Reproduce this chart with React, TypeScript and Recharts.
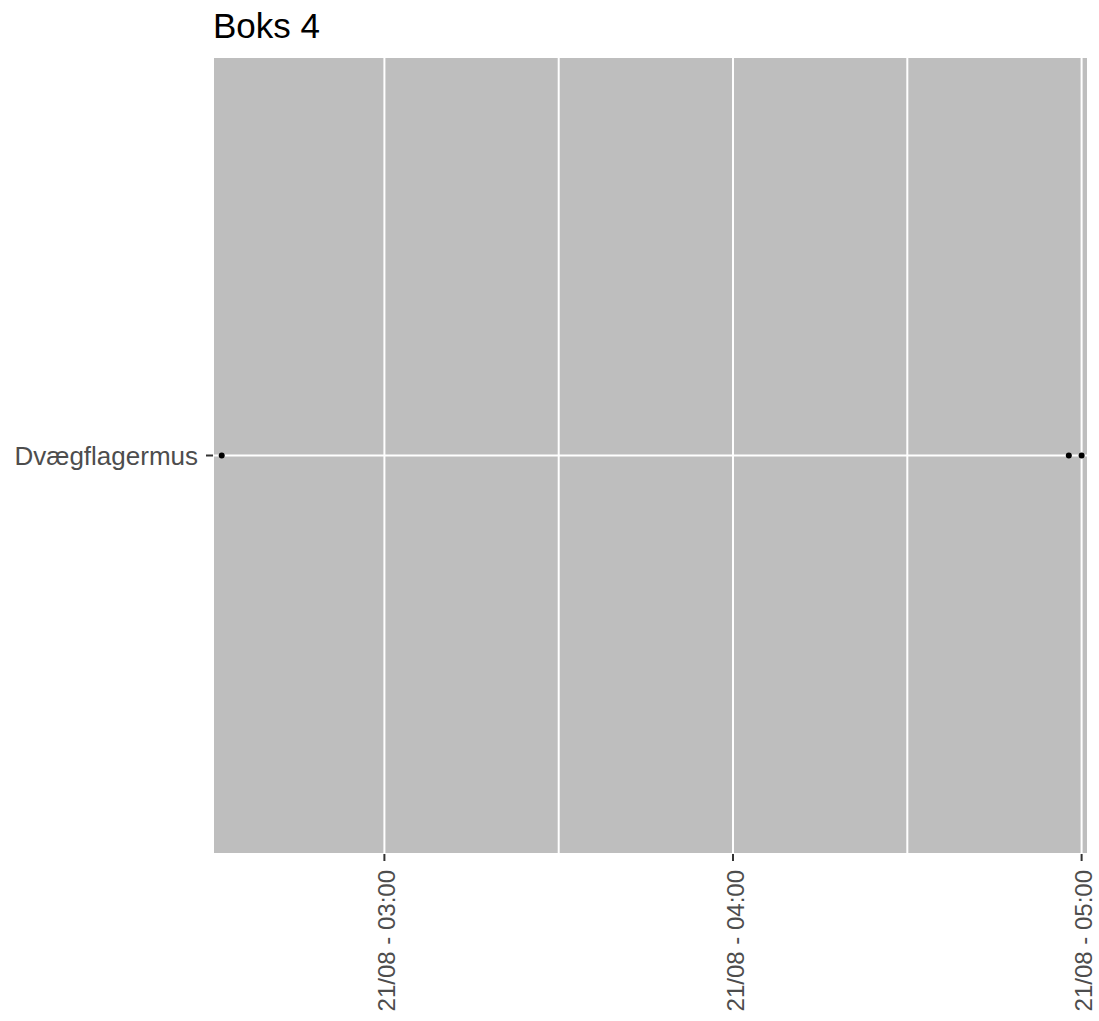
import { CartesianGrid, Scatter, ScatterChart, XAxis, YAxis } from "recharts";

// minutes since midnight, 21/08
const detectionTimes = [152, 297.8, 300];
const detectionSpecies = ["Dvægflagermus", "Dvægflagermus", "Dvægflagermus"];
const speciesList = ["Dvægflagermus"];
const timeTicks = [180, 210, 240, 270, 300];
const labelledTicks = [180, 240, 300];
const timeDomain = [150.5, 301.1];

const points = detectionTimes.map((t, i) => ({ time: t, species: detectionSpecies[i] }));

const FONT = "'Liberation Sans', Arial, sans-serif";

function fmtTime(m: number) {
  const h = Math.floor(m / 60);
  const mm = Math.round(m % 60);
  return `21/08 - ${String(h).padStart(2, "0")}:${String(mm).padStart(2, "0")}`;
}

function TimeTick(props: any) {
  const { x, y, payload } = props;
  if (!labelledTicks.includes(payload.value)) return null;
  return (
    <g>
      <line x1={x} x2={x} y1={y} y2={y + 7} stroke="#333333" strokeWidth={2} />
      <g transform={`translate(${x + 10.5}, ${y + 16}) rotate(-90)`}>
        <text x={0} y={0} textAnchor="end" fill="#4D4D4D" fontSize={24} fontFamily={FONT}>
          {fmtTime(payload.value)}
        </text>
      </g>
    </g>
  );
}

function Dot(props: any) {
  const { cx, cy } = props;
  return <circle cx={cx} cy={cy} r={3} fill="#000" />;
}

export default function App() {
  return (
    <div style={{ position: "absolute", left: 0, top: 0, width: 1099, height: 1021, background: "#fff" }}>
      <div
        style={{
          position: "absolute",
          left: 213,
          top: 6,
          fontSize: 35,
          fontFamily: FONT,
          color: "#000",
          lineHeight: "normal",
        }}
      >
        Boks 4
      </div>
      <ScatterChart width={1099} height={1021} margin={{ top: 57, right: 11, bottom: 0, left: 0 }}>
        <CartesianGrid fill="#BEBEBE" stroke="#FFFFFF" strokeWidth={2} />
        <XAxis
          type="number"
          dataKey="time"
          domain={timeDomain}
          ticks={timeTicks}
          allowDataOverflow
          height={167}
          axisLine={false}
          tickLine={false}
          tickSize={0}
          tickMargin={0}
          tick={<TimeTick />}
          interval={0}
        />
        <YAxis
          type="category"
          dataKey="species"
          allowDuplicatedCategory={false}
          ticks={speciesList}
          width={213}
          axisLine={false}
          tickSize={7}
          tickMargin={8}
          tickLine={{ stroke: "#333333", strokeWidth: 2 }}
          tick={{ fill: "#4D4D4D", fontSize: 26, fontFamily: FONT }}
        />
        <Scatter data={points} isAnimationActive={false} shape={<Dot />} />
      </ScatterChart>
    </div>
  );
}
